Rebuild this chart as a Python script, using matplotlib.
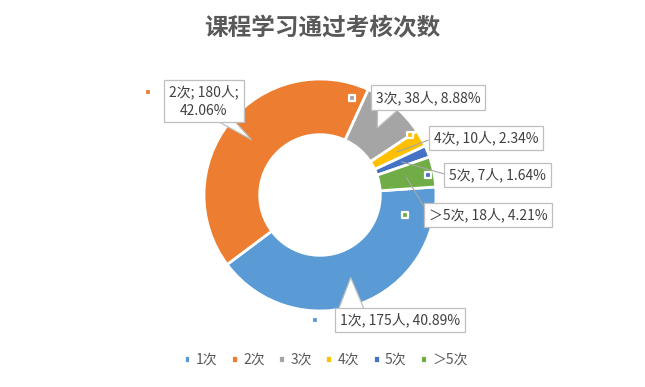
import numpy as np
import matplotlib.pyplot as plt
from matplotlib.patches import Polygon

plt.rcParams['font.family'] = ['Noto Sans CJK SC', 'DejaVu Sans']

# data
categories = ['1次', '2次', '3次', '4次', '5次', '＞5次']
counts = [175, 180, 38, 10, 7, 18]
percents = ['40.89%', '42.06%', '8.88%', '2.34%', '1.64%', '4.21%']
colors = ['#5B9BD5', '#ED7D31', '#A5A5A5', '#FFC000', '#4472C4', '#70AD47']

labels = [f'{c}, {n}人, {p}' for c, n, p in zip(categories, counts, percents)]
labels[1] = f'{categories[1]}; {counts[1]}人;\n{percents[1]}'

W, H = 645, 387
fig = plt.figure(figsize=(W / 100, H / 100), dpi=100)
cx, cy, R = 320, 195, 116   # pie centre / radius in pixels
ax = fig.add_axes([(cx - R) / W, (H - cy - R) / H, 2 * R / W, 2 * R / H])

wedges, _ = ax.pie(counts, colors=colors, startangle=4, counterclock=False,
                   radius=1, wedgeprops=dict(width=0.48, edgecolor='white', linewidth=2))
ax.set_xlim(-1, 1)
ax.set_ylim(-1, 1)
ax.set_aspect('equal')

# label box centres and legend-key spots (data units, radius = 1)
text_pos = [(0.69, -1.08), (-1.0, 0.81), (0.93, 0.84), (1.43, 0.49), (1.53, 0.17), (1.45, -0.17)]
key_pos = [(-0.04, -1.08), (-1.48, 0.89), (0.28, 0.84), (0.78, 0.52), (0.93, 0.17), (0.73, -0.17)]
# callout base on the box: (edge, from, to) as fraction of box width
callout = {0: ('top', 0.03, 0.22), 1: ('bottom', 0.70, 0.90), 2: ('bottom', 0.06, 0.24)}
box = dict(boxstyle='square,pad=0.35', fc='white', ec='#bfbfbf', lw=0.9)

anns = []
anchors = []
for i, w in enumerate(wedges):
    mid = np.deg2rad((w.theta1 + w.theta2) / 2)
    xy = (0.76 * np.cos(mid), 0.76 * np.sin(mid))
    anchors.append(xy)
    ap = None
    if i not in callout:
        ap = dict(arrowstyle='-', color='#a6a6a6', lw=0.8, shrinkA=0, shrinkB=0,
                  relpos=(0.0, 0.5))
    a = ax.annotate(labels[i], xy=xy, xytext=text_pos[i], ha='center', va='center',
                    fontsize=10, color='#404040', bbox=box, arrowprops=ap,
                    annotation_clip=False, linespacing=1.4, zorder=4)
    anns.append(a)
    ax.scatter([key_pos[i][0]], [key_pos[i][1]], marker='s', s=22, color=colors[i],
               edgecolor='white', linewidth=1.6, zorder=5, clip_on=False)

# callout pointers drawn under the label boxes
fig.canvas.draw()
inv = ax.transData.inverted()
for i, (edge, f0, f1) in callout.items():
    bb = anns[i].get_bbox_patch().get_window_extent()
    (x0, y0), (x1, y1) = inv.transform([[bb.x0, bb.y0], [bb.x1, bb.y1]])
    yb = y1 if edge == 'top' else y0
    pts = [(x0 + f0 * (x1 - x0), yb), anchors[i], (x0 + f1 * (x1 - x0), yb)]
    ax.add_patch(Polygon(pts, closed=False, fc='white', ec='#bfbfbf', lw=0.9,
                         zorder=3.5, clip_on=False))

fig.text(0.5, 1 - 28 / H, '课程学习通过考核次数', ha='center', va='center',
         fontsize=17, fontweight='bold', color='#595959')

fig.legend(wedges, categories, loc='center', bbox_to_anchor=(0.505, 1 - 360 / H),
           ncol=6, frameon=False, fontsize=10, labelcolor='#595959',
           handlelength=0.5, handleheight=0.5, handletextpad=0.4, columnspacing=0.95)

fig.savefig('out.png', dpi=100)
